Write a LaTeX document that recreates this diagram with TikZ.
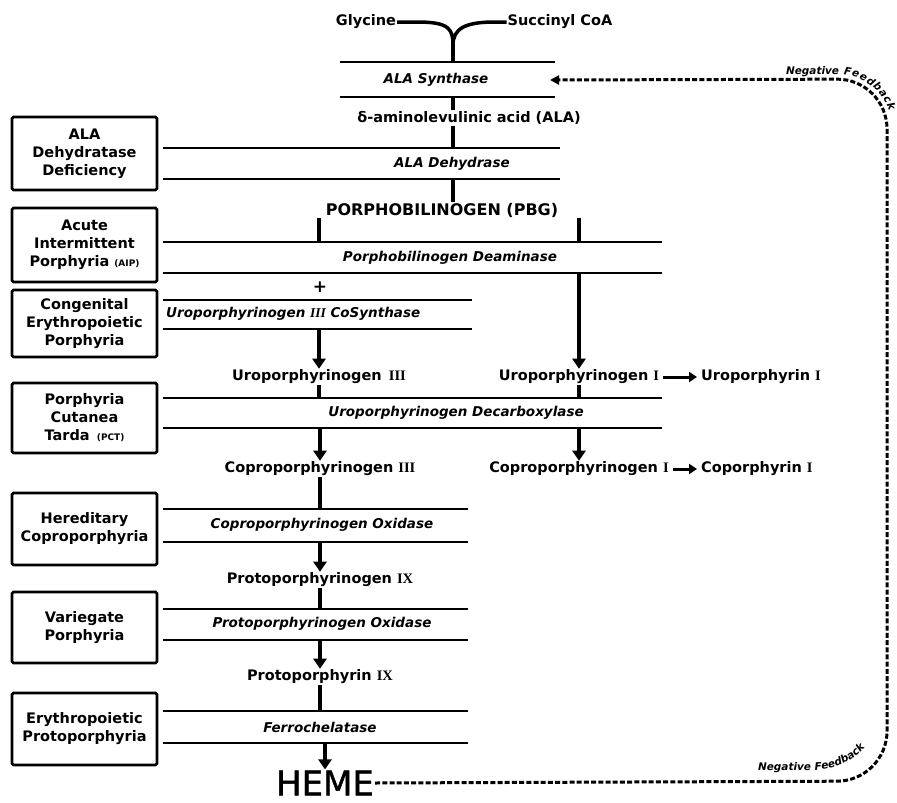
\documentclass[tikz,border=0pt]{standalone}
\usepackage{fontspec}
\setmainfont{DejaVu Sans}[BoldFont={DejaVu Sans Bold},ItalicFont={DejaVu Sans Oblique},BoldItalicFont={DejaVu Sans Bold Oblique}]
\newfontfamily\numfont{Liberation Serif}
\newfontfamily\hemefont{DejaVu Sans}[FakeBold=1.2]
\usetikzlibrary{arrows.meta,decorations.text}

\newcommand{\rmn}[1]{{\numfont\bfseries #1}}
\newcommand{\fbfont}{\fontsize{10.5}{11}\selectfont\bfseries\itshape}

\tikzset{
  compound/.style={font=\fontsize{14.5}{16}\selectfont\bfseries, inner sep=1pt},
  enzyme/.style={font=\fontsize{13.5}{16}\selectfont\bfseries\itshape, inner sep=1pt},
  disorder/.style={draw, line width=2.6pt, rounded corners=1.5pt, minimum width=145pt,
    align=center, font=\fontsize{14.5}{18}\selectfont\bfseries, inner sep=2pt},
  band/.style={line width=1.6pt},
  stem/.style={line width=3.5pt},
  conv/.style={stem, -{Triangle[length=10pt,width=13pt]}},
  side/.style={line width=3pt, -{Triangle[length=8pt,width=10pt]}, shorten >=3pt, shorten <=3pt},
  feedback/.style={line width=3pt, dash pattern=on 5pt off 2.2pt, rounded corners=50pt},
  fblabel/.style={decorate, decoration={text along path, raise=5pt}}
}

\begin{document}
\begin{tikzpicture}[x=1pt,y=1pt]
  \useasboundingbox (0,0) rectangle (897,-803);
  % compounds of the pathway
  \path
    (366,-22) node[compound] (gly) {Glycine}
    (560,-22) node[compound] (succ) {Succinyl CoA}
    (469,-118) node[compound] (ala) {δ-aminolevulinic acid (ALA)}
    (442,-210) node[compound, font=\fontsize{16}{18}\selectfont\bfseries] (pbg) {PORPHOBILINOGEN (PBG)}
    (319,-377) node[compound] (uro3) {Uroporphyrinogen\enspace\rmn{III}}
    (579,-377) node[compound] (uro1) {Uroporphyrinogen \rmn{I}}
    (700,-377) node[compound, anchor=west] (uroI) {Uroporphyrin \rmn{I}}
    (320,-469) node[compound] (copro3) {Coproporphyrinogen \rmn{III}}
    (579,-469) node[compound] (copro1) {Coproporphyrinogen \rmn{I}}
    (700,-469) node[compound, anchor=west] (coproI) {Coporphyrin \rmn{I}}
    (320,-580) node[compound] (protogen) {Protoporphyrinogen \rmn{IX}}
    (320,-677) node[compound] (proto) {Protoporphyrin \rmn{IX}}
    (325,-783) node[font=\fontsize{34}{36}\selectfont\hemefont, inner sep=1pt] (heme) {HEME};
  \coordinate (join) at (453,-45);

  % enzymes between pairs of lines
  \draw[band] (340,-62) -- (555,-62) (340,-97) -- (555,-97);
  \node[enzyme] (synth) at (436,-80) {ALA Synthase};
  \draw[band] (163,-148) -- (560,-148) (163,-179) -- (560,-179);
  \node[enzyme] (dehyd) at (452,-164) {ALA Dehydrase};
  \draw[band] (163,-242) -- (662,-242) (163,-273) -- (662,-273);
  \node[enzyme] (deam) at (450,-258) {Porphobilinogen Deaminase};
  \draw[band] (163,-300) -- (472,-300) (163,-329) -- (472,-329);
  \node[enzyme, anchor=west] (cosyn) at (165,-314) {Uroporphyrinogen \rmn{III} CoSynthase};
  \draw[band] (163,-398) -- (662,-398) (163,-428) -- (662,-428);
  \node[enzyme] (decarb) at (456,-413) {Uroporphyrinogen Decarboxylase};
  \draw[band] (163,-509) -- (468,-509) (163,-542) -- (468,-542);
  \node[enzyme] (coprox) at (322,-525) {Coproporphyrinogen Oxidase};
  \draw[band] (163,-609) -- (468,-609) (163,-640) -- (468,-640);
  \node[enzyme] (protox) at (322,-624) {Protoporphyrinogen Oxidase};
  \draw[band] (163,-711) -- (468,-711) (163,-743) -- (468,-743);
  \node[enzyme] (ferro) at (320,-727) {Ferrochelatase};
  \coordinate (synthT) at (0,-62);  \coordinate (synthB) at (0,-97);
  \coordinate (dehydT) at (0,-148); \coordinate (dehydB) at (0,-179);
  \coordinate (deamT) at (0,-242);  \coordinate (deamB) at (0,-273);
  \coordinate (cosynB) at (0,-329);
  \coordinate (decarbT) at (0,-398); \coordinate (decarbB) at (0,-428);
  \coordinate (coproxT) at (0,-509); \coordinate (coproxB) at (0,-542);
  \coordinate (protoxT) at (0,-609); \coordinate (protoxB) at (0,-640);
  \coordinate (ferroT) at (0,-711); \coordinate (ferroB) at (0,-743);

  % disorders
  \node[disorder, minimum height=73pt] (aladd) at (84.5,-153.5) {ALA\\Dehydratase\\Deficiency};
  \node[disorder, minimum height=74pt] (aip) at (84.5,-245) {Acute\\Intermittent\\Porphyria {\fontsize{9}{9}\selectfont(AIP)}};
  \node[disorder, minimum height=67pt] (cep) at (84.5,-323.5) {Congenital\\Erythropoietic\\Porphyria};
  \node[disorder, minimum height=70pt] (pct) at (84.5,-418) {Porphyria\\Cutanea\\Tarda\enspace{\fontsize{9}{9}\selectfont(PCT)}};
  \node[disorder, minimum height=72pt] (hcp) at (84.5,-529) {Hereditary\\Coproporphyria};
  \node[disorder, minimum height=71pt] (vp) at (84.5,-627.5) {Variegate\\Porphyria};
  \node[disorder, minimum height=72pt] (epp) at (84.5,-729) {Erythropoietic\\Protoporphyria};

  \begin{scope}[stem]
    \draw (gly.east) -- ++(20,0) .. controls +(32,0) and +(0,16) .. (join);
    \draw (succ.west) -- ++(-12,0) .. controls +(-30,0) and +(0,16) .. (join);
    \draw (join) -- (join |- synthT);
    \draw (join |- synthB) -- (join |- ala.north);
    \draw (join |- ala.south) -- (join |- dehydT);
    \draw (join |- dehydB) -- (join |- pbg.north);
    \draw (uro3 |- pbg.south) -- (uro3 |- deamT);
    \draw (uro1 |- pbg.south) -- (uro1 |- deamT);
    \draw (uro3.south) -- (uro3 |- decarbT);
    \draw (uro1.south) -- (uro1 |- decarbT);
    \draw (copro3.south) -- (copro3 |- coproxT);
    \draw (protogen.south) -- (protogen |- protoxT);
    \draw (proto.south) -- (proto |- ferroT);
  \end{scope}
  \node[font=\fontsize{17}{17}\selectfont\bfseries, inner sep=0pt] (plus) at (320,-287) {+};
  \begin{scope}[conv]
    \draw (uro3 |- cosynB) -- (uro3.north);
    \draw (uro1 |- deamB) -- (uro1.north);
    \draw (copro3 |- decarbB) -- (copro3.north);
    \draw (copro1 |- decarbB) -- (copro1.north);
    \draw (protogen |- coproxB) -- (protogen.north);
    \draw (proto |- protoxB) -- (proto.north);
    \draw (heme |- ferroB) -- (heme.north);
  \end{scope}
  \draw[side] (uro1) -- (uroI);
  \draw[side] (copro1) -- (coproI);

  % negative feedback of heme on ALA synthase
  \coordinate (fbend) at (550,-80);
  \coordinate (fbtip) at (558,-80);
  \draw[feedback] (heme.east) -- (887,-781) -- (887,-79) -- (fbtip);
  \draw[-{Triangle[length=9pt,width=9pt]}, line width=3pt] (fbtip) -- (fbend);
  \path[fblabel, decoration={text={|\fbfont|Negative Feedback}}]
    (786,-79) -- (837,-79) arc[start angle=90, end angle=0, radius=50];
  \path[decorate, decoration={text along path, text={|\fbfont|Negative Feedback}}]
    (758,-770) -- (812,-770) .. controls (842,-770) and (864,-756) .. (879,-726);
\end{tikzpicture}
\end{document}
